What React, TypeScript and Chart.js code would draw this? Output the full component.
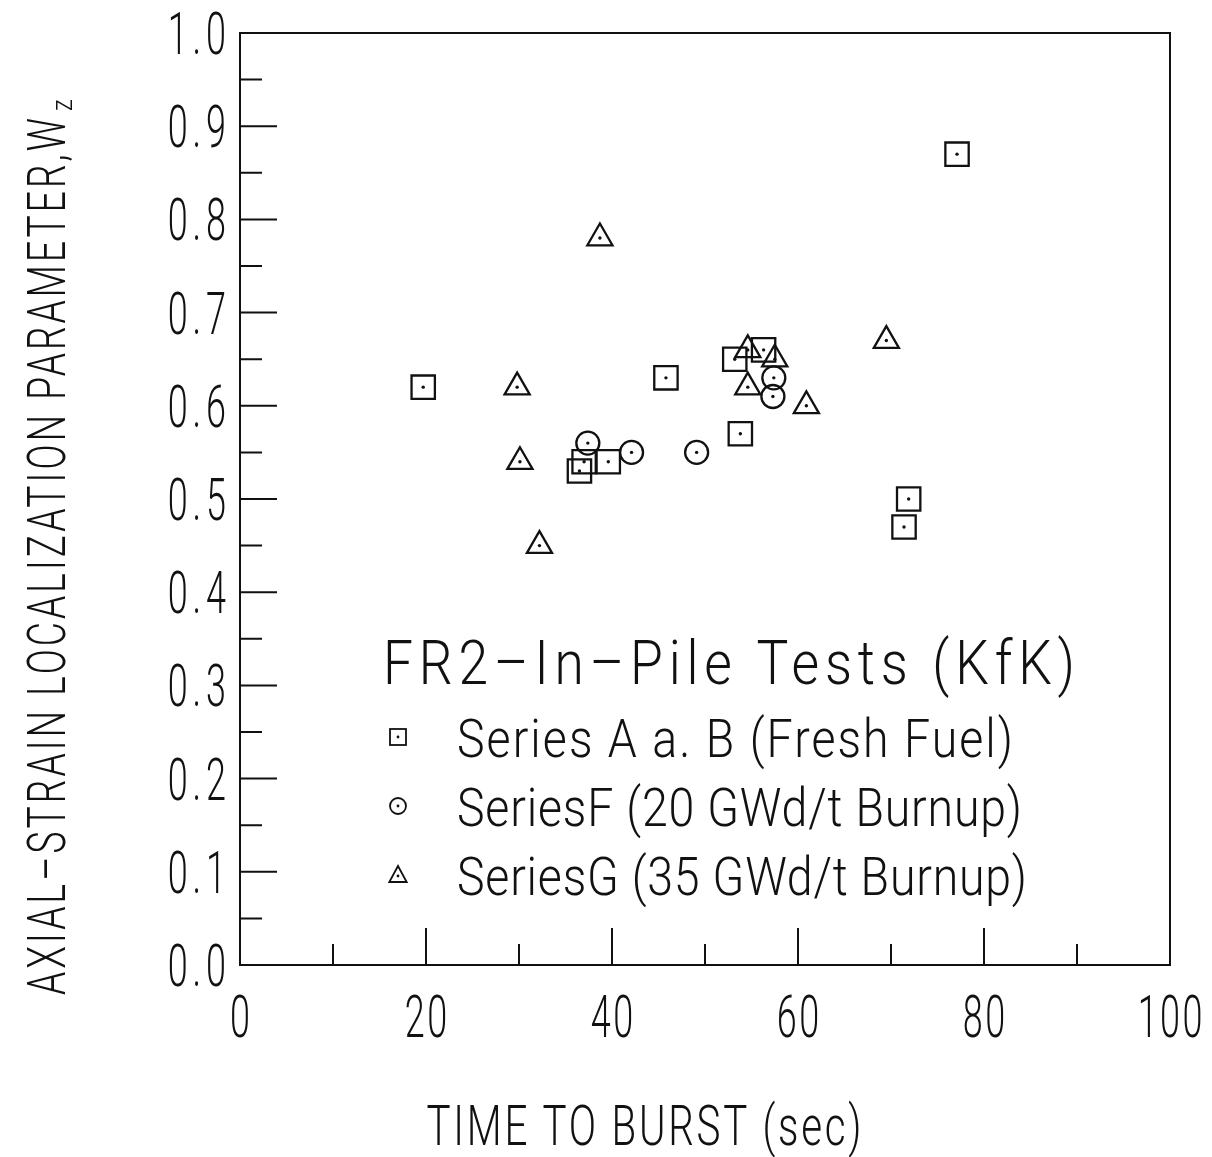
import React, { useEffect, useRef } from 'react';
import { Chart, registerables } from 'chart.js';

Chart.register(...registerables);

// ---- data ----
const freshX = [19.7, 36.5, 37.0, 39.6, 45.8, 53.2, 53.8, 56.3, 71.4, 71.9, 77.1];
const freshY = [0.62, 0.53, 0.54, 0.54, 0.63, 0.65, 0.57, 0.66, 0.47, 0.50, 0.87];
const f20X = [37.4, 42.1, 49.1, 57.3, 57.4];
const f20Y = [0.56, 0.55, 0.55, 0.61, 0.63];
const g35X = [29.8, 30.1, 32.2, 38.7, 54.6, 54.6, 57.5, 60.9, 69.5];
const g35Y = [0.62, 0.54, 0.45, 0.78, 0.66, 0.62, 0.65, 0.60, 0.67];

const seriesLabels = [
  'Series A a. B (Fresh Fuel)',
  'SeriesF (20 GWd/t Burnup)',
  'SeriesG (35 GWd/t Burnup)',
];
const legendTitle = 'FR2\u2013In\u2013Pile Tests (KfK)';
const xTitle = 'TIME TO BURST (sec)';
const yTitle = 'AXIAL\u2013STRAIN LOCALIZATION PARAMETER,W';
const yTitleSub = 'z';

const xTickValues = [0, 20, 40, 60, 80, 100];
const xTickLabels = ['0', '20', '40', '60', '80', '100'];
const xMinorTicks = [10, 30, 50, 70, 90];
const yTickValues = [0, 0.1, 0.2, 0.3, 0.4, 0.5, 0.6, 0.7, 0.8, 0.9, 1.0];
const yTickLabels = ['0.0', '0.1', '0.2', '0.3', '0.4', '0.5', '0.6', '0.7', '0.8', '0.9', '1.0'];
const yMinorTicks = [0.05, 0.15, 0.25, 0.35, 0.45, 0.55, 0.65, 0.75, 0.85, 0.95];

const FONT = "Roboto, 'Liberation Sans', sans-serif";
const INK = '#111';

function drawFitText(
  ctx: CanvasRenderingContext2D,
  text: string,
  x: number,
  y: number,
  size: number,
  width: number,
  align: 'left' | 'center' | 'right',
  sx = 0.72
) {
  ctx.save();
  ctx.font = `300 ${size}px ${FONT}`;
  (ctx as any).letterSpacing = '0px';
  const n = Array.from(text).length;
  const natural = ctx.measureText(text).width;
  let s = sx;
  let ls = (width / s - natural) / Math.max(n - 1, 1);
  if (ls < 0) {
    ls = 0;
    s = width / natural;
  }
  (ctx as any).letterSpacing = `${ls}px`;
  const left = align === 'left' ? x : align === 'center' ? x - width / 2 : x - width;
  ctx.translate(left, y);
  ctx.scale(s, 1);
  ctx.textAlign = 'left';
  ctx.textBaseline = 'alphabetic';
  ctx.fillStyle = INK;
  ctx.fillText(text, 0, 0);
  ctx.restore();
}

function drawScaledText(
  ctx: CanvasRenderingContext2D,
  text: string,
  x: number,
  y: number,
  size: number,
  sx: number,
  ls: number,
  align: 'left' | 'center' | 'right'
) {
  ctx.save();
  ctx.font = `300 ${size}px ${FONT}`;
  (ctx as any).letterSpacing = `${ls}px`;
  const w = (ctx.measureText(text).width - ls) * sx;
  const left = align === 'left' ? x : align === 'center' ? x - w / 2 : x - w;
  ctx.translate(left, y);
  ctx.scale(sx, 1);
  ctx.textAlign = 'left';
  ctx.textBaseline = 'alphabetic';
  ctx.fillStyle = INK;
  ctx.fillText(text, 0, 0);
  ctx.restore();
}

const markerDots = {
  id: 'markerDots',
  afterDatasetsDraw(chart: any) {
    const ctx = chart.ctx as CanvasRenderingContext2D;
    ctx.save();
    ctx.fillStyle = INK;
    chart.data.datasets.forEach((_: any, i: number) => {
      const meta = chart.getDatasetMeta(i);
      meta.data.forEach((el: any) => {
        ctx.beginPath();
        ctx.arc(el.x, el.y, 1.7, 0, Math.PI * 2);
        ctx.fill();
      });
    });
    ctx.restore();
  },
};

const frame = {
  id: 'frame',
  afterDraw(chart: any) {
    const ctx = chart.ctx as CanvasRenderingContext2D;
    const { left, right, top, bottom } = chart.chartArea;
    const xs = chart.scales.x;
    const ys = chart.scales.y;
    ctx.save();
    ctx.strokeStyle = INK;
    ctx.lineWidth = 2;
    ctx.strokeRect(left, top, right - left, bottom - top);

    ctx.beginPath();
    xs.ticks.forEach((t: any) => {
      const px = xs.getPixelForValue(t.value);
      ctx.moveTo(px, bottom);
      ctx.lineTo(px, bottom - 37);
    });
    xMinorTicks.forEach((v) => {
      const px = xs.getPixelForValue(v);
      ctx.moveTo(px, bottom);
      ctx.lineTo(px, bottom - 21);
    });
    ys.ticks.forEach((t: any) => {
      const py = ys.getPixelForValue(t.value);
      ctx.moveTo(left, py);
      ctx.lineTo(left + 37, py);
    });
    yMinorTicks.forEach((v) => {
      const py = ys.getPixelForValue(v);
      ctx.moveTo(left, py);
      ctx.lineTo(left + 22, py);
    });
    ctx.stroke();
    ctx.restore();

    // tick labels
    xs.ticks.forEach((t: any, i: number) => {
      const px = xs.getPixelForValue(t.value);
      drawScaledText(ctx, xTickLabels[i], px, 1037, 60, 0.6, 4, 'center');
    });
    ys.ticks.forEach((t: any, i: number) => {
      const py = ys.getPixelForValue(t.value);
      drawScaledText(ctx, yTickLabels[i], 226, py + 21, 60, 0.6, 8, 'right');
    });

    // x title
    drawFitText(ctx, xTitle, 644, 1145, 56, 435, 'center', 0.72);

    // y title (rotated)
    ctx.save();
    ctx.translate(65, 995);
    ctx.rotate(-Math.PI / 2);
    drawFitText(ctx, yTitle, 0, 0, 53, 877, 'left', 0.7);
    drawFitText(ctx, yTitleSub, 884, 7, 30, 13, 'left', 0.8);
    ctx.restore();

    // legend
    drawFitText(ctx, legendTitle, 383, 684, 62, 692, 'left', 0.86);
    const rowsY = [757, 826, 895];
    const rightEdges = [1013, 1022, 1027];
    seriesLabels.forEach((lab, i) => {
      drawFitText(ctx, lab, 457, rowsY[i], 54, rightEdges[i] - 457, 'left', 0.86);
    });
    // legend markers
    const mx = 398;
    const my = [737, 806, 876];
    ctx.save();
    ctx.strokeStyle = INK;
    ctx.fillStyle = INK;
    ctx.lineWidth = 1.8;
    ctx.strokeRect(mx - 8, my[0] - 8, 16, 16);
    ctx.beginPath();
    ctx.arc(mx, my[1], 8, 0, Math.PI * 2);
    ctx.stroke();
    ctx.beginPath();
    ctx.moveTo(mx, my[2] - 10);
    ctx.lineTo(mx + 8.7, my[2] + 6);
    ctx.lineTo(mx - 8.7, my[2] + 6);
    ctx.closePath();
    ctx.stroke();
    my.forEach((yy) => {
      ctx.beginPath();
      ctx.arc(mx, yy, 1.4, 0, Math.PI * 2);
      ctx.fill();
    });
    ctx.restore();
  },
};

export default function App() {
  const ref = useRef<HTMLCanvasElement | null>(null);
  useEffect(() => {
    if (!ref.current) return;
    const mk = (xs: number[], ys: number[]) => xs.map((x, i) => ({ x, y: ys[i] }));
    const common = {
      borderColor: INK,
      backgroundColor: 'rgba(0,0,0,0)',
      pointBorderWidth: 2.3,
      showLine: false,
    };
    const chart = new Chart(ref.current, {
      type: 'scatter',
      data: {
        datasets: [
          { ...common, label: seriesLabels[0], data: mk(freshX, freshY), pointStyle: 'rect', pointRadius: 16.5, pointHoverRadius: 16.5 },
          { ...common, label: seriesLabels[1], data: mk(f20X, f20Y), pointStyle: 'circle', pointRadius: 11.5, pointHoverRadius: 11.5 },
          { ...common, label: seriesLabels[2], data: mk(g35X, g35Y), pointStyle: 'triangle', pointRadius: 14.5, pointHoverRadius: 14.5 },
        ],
      },
      options: {
        animation: false,
        responsive: false,
        devicePixelRatio: 1,
        events: [],
        layout: { padding: { top: 33, right: 42, left: 0, bottom: 0 } },
        plugins: { legend: { display: false }, tooltip: { enabled: false } },
        scales: {
          x: {
            type: 'linear',
            min: 0,
            max: 100,
            grid: { display: false },
            border: { display: false },
            ticks: { display: false },
            afterBuildTicks: (s: any) => {
              s.ticks = xTickValues.map((v) => ({ value: v }));
            },
            afterFit: (s: any) => {
              s.height = 192;
            },
          },
          y: {
            type: 'linear',
            min: 0,
            max: 1,
            grid: { display: false },
            border: { display: false },
            ticks: { display: false },
            afterBuildTicks: (s: any) => {
              s.ticks = yTickValues.map((v) => ({ value: v }));
            },
            afterFit: (s: any) => {
              s.width = 240;
            },
          },
        },
      } as any,
      plugins: [markerDots, frame],
    });
    return () => chart.destroy();
  }, []);
  return (
    <div style={{ position: 'absolute', left: 0, top: 0, width: 1212, height: 1157, background: '#fff' }}>
      <canvas ref={ref} width={1212} height={1157} />
    </div>
  );
}
